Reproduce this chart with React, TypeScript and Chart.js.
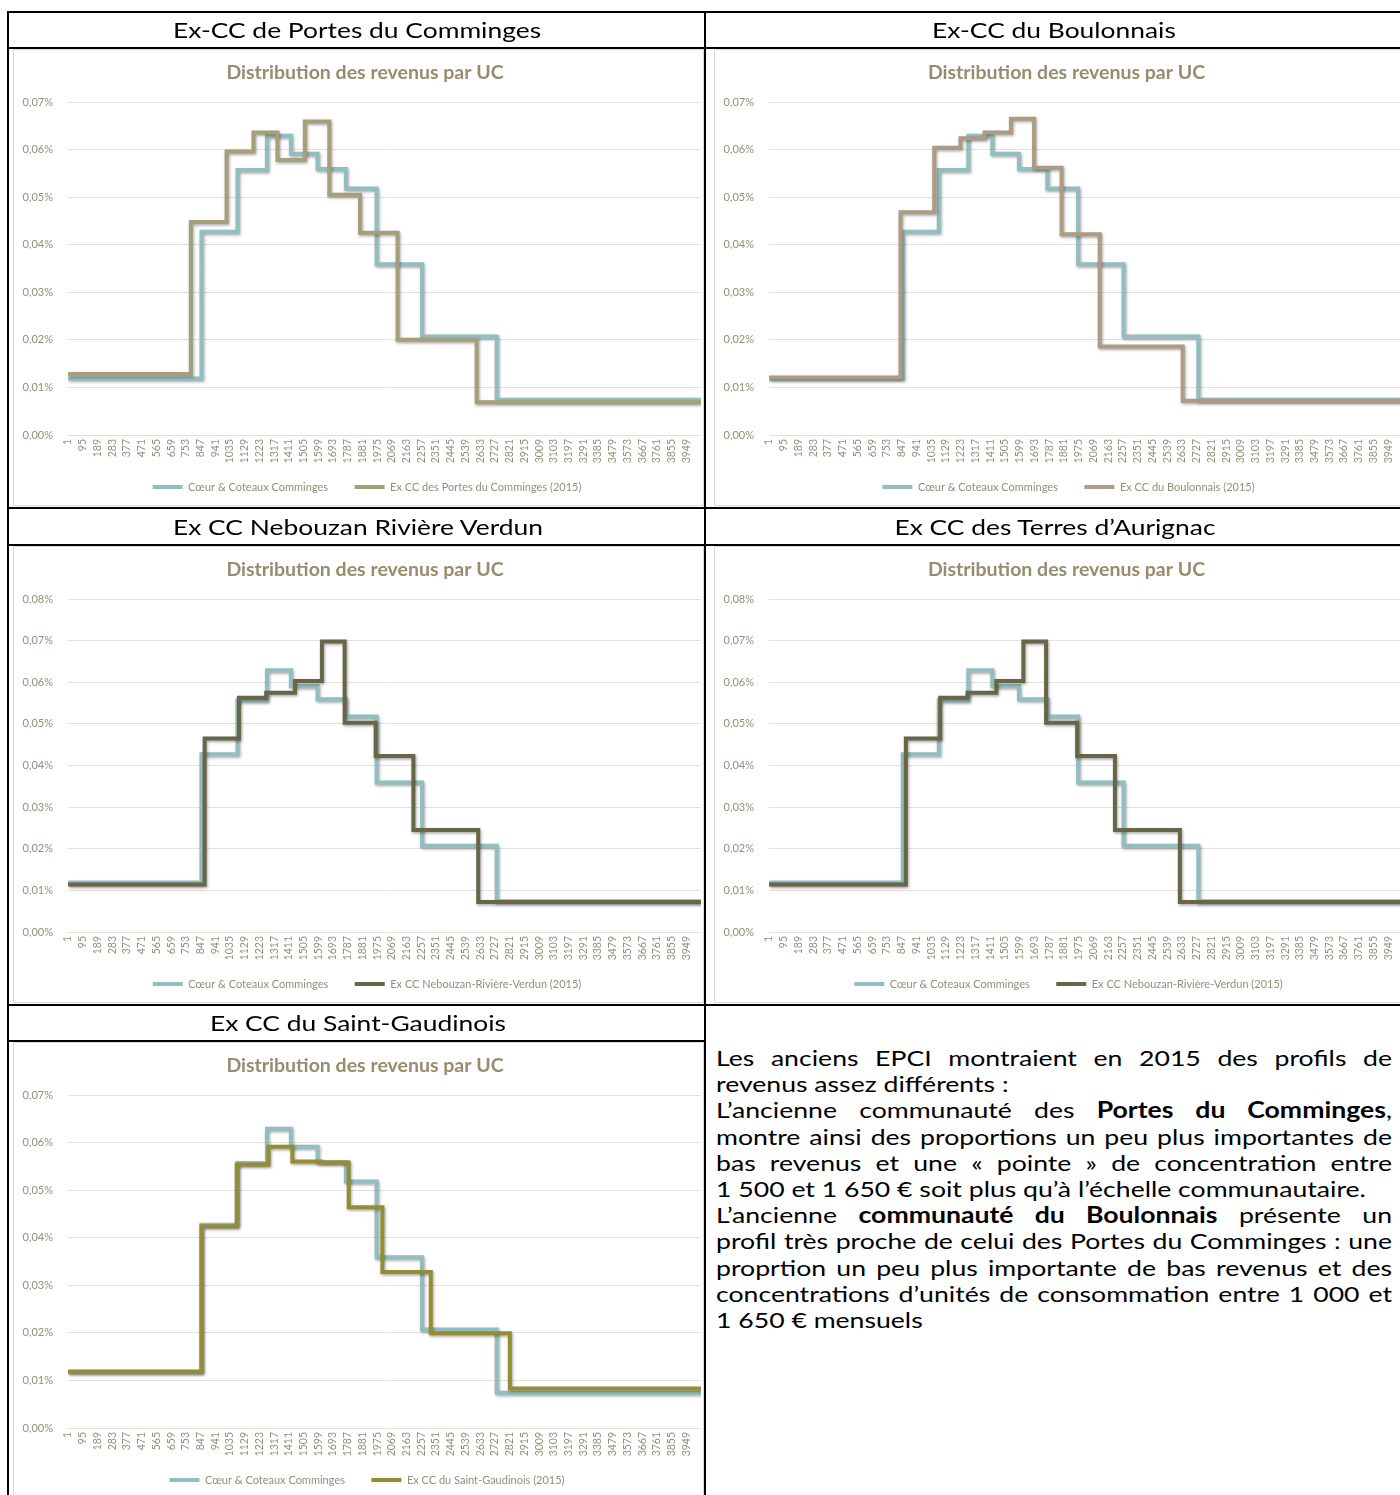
import React, { useEffect, useRef } from "react";
import { Chart, registerables } from "chart.js";

Chart.register(...registerables);

const FONT = "Lato, 'Open Sans', sans-serif";

// X axis tick labels (income per UC, €)
const xTickLabels = [
  1, 95, 189, 283, 377, 471, 565, 659, 753, 847, 941, 1035, 1129, 1223, 1317,
  1411, 1505, 1599, 1693, 1787, 1881, 1975, 2069, 2163, 2257, 2351, 2445, 2539,
  2633, 2727, 2821, 2915, 3009, 3103, 3197, 3291, 3385, 3479, 3573, 3667, 3761,
  3855, 3949,
];
const X_MIN = 0.5;
const X_MAX = 4042.5;

// Step start incomes and densities (% per €)
const coeurBreaks = [1, 853, 1083, 1271, 1424, 1594, 1775, 1971, 2261, 2738];
const coeurValues = [0.0119, 0.0427, 0.0557, 0.0629, 0.0591, 0.0559, 0.0518, 0.0359, 0.0207, 0.0074];

const portesBreaks = [1, 785, 1013, 1185, 1338, 1513, 1669, 1865, 2105, 2610];
const portesValues = [0.0128, 0.0448, 0.0596, 0.0636, 0.0578, 0.0659, 0.0505, 0.0425, 0.02, 0.0069];

const boulonnaisBreaks = [1, 839, 1054, 1221, 1375, 1543, 1690, 1866, 2109, 2638];
const boulonnaisValues = [0.0121, 0.0468, 0.0604, 0.0624, 0.0636, 0.0665, 0.0562, 0.0422, 0.0186, 0.0072];

const nebouzanBreaks = [1, 873, 1092, 1266, 1450, 1622, 1767, 1965, 2206, 2620];
const nebouzanValues = [0.0114, 0.0465, 0.0563, 0.0575, 0.0603, 0.0698, 0.0503, 0.0423, 0.0245, 0.0072];

const gaudinoisBreaks = [1, 853, 1078, 1280, 1433, 1614, 1793, 2008, 2317, 2822];
const gaudinoisValues = [0.0118, 0.0424, 0.0554, 0.0591, 0.056, 0.0558, 0.0464, 0.0328, 0.0199, 0.0083];

const COEUR_LABEL = "Cœur & Coteaux Comminges";
const CHART_TITLE = "Distribution des revenus par UC";

const TEAL = "#93BEBF";
const TICK_COLOR = "#948E7C";
const TITLE_COLOR = "#978C6C";
const GRID_COLOR = "#E4E1D8";

type Series = { label: string; breaks: number[]; values: number[]; color: string };

const portesSeries: Series = { label: "Ex CC des Portes du Comminges (2015)", breaks: portesBreaks, values: portesValues, color: "#A6A07A" };
const boulonnaisSeries: Series = { label: "Ex CC du Boulonnais (2015)", breaks: boulonnaisBreaks, values: boulonnaisValues, color: "#AD9C83" };
const nebouzanSeries: Series = { label: "Ex CC Nebouzan-Rivière-Verdun (2015)", breaks: nebouzanBreaks, values: nebouzanValues, color: "#686647" };
const gaudinoisSeries: Series = { label: "Ex CC du Saint-Gaudinois (2015)", breaks: gaudinoisBreaks, values: gaudinoisValues, color: "#958D33" };

function toSteps(breaks: number[], values: number[]) {
  const pts = breaks.map((b, i) => ({ x: b, y: values[i] }));
  pts.push({ x: X_MAX, y: values[values.length - 1] });
  return pts;
}

const shadowPlugin = {
  id: "lineShadow",
  beforeDatasetDraw(chart: any) {
    const ctx = chart.ctx;
    ctx.save();
    ctx.shadowColor = "rgba(0,0,0,0.35)";
    ctx.shadowBlur = 3;
    ctx.shadowOffsetX = 1;
    ctx.shadowOffsetY = 1.5;
  },
  afterDatasetDraw(chart: any) {
    chart.ctx.restore();
  },
};

// nudges title and legend to the right, as in the original Excel charts
const shiftPlugin = {
  id: "shiftBlocks",
  afterLayout(chart: any) {
    if (chart.titleBlock) {
      chart.titleBlock.left += 8;
      chart.titleBlock.right += 8;
    }
    if (chart.legend) {
      chart.legend.left += 10;
      chart.legend.right += 10;
    }
  },
};

function StepChart({ width, height, yMax, second }: { width: number; height: number; yMax: number; second: Series }) {
  const ref = useRef<HTMLCanvasElement>(null);
  useEffect(() => {
    const canvas = ref.current;
    if (!canvas) return;
    const chart = new Chart(canvas, {
      type: "line",
      data: {
        datasets: [
          {
            label: COEUR_LABEL,
            data: toSteps(coeurBreaks, coeurValues),
            borderColor: TEAL,
            backgroundColor: TEAL,
            borderWidth: 4,
            pointRadius: 0,
            stepped: "before",
            fill: false,
            order: 1,
          },
          {
            label: second.label,
            data: toSteps(second.breaks, second.values),
            borderColor: second.color,
            backgroundColor: second.color,
            borderWidth: 4,
            pointRadius: 0,
            stepped: "before",
            fill: false,
            order: 0,
          },
        ],
      } as any,
      options: {
        animation: false,
        responsive: false,
        devicePixelRatio: 1,
        layout: { padding: { left: 0, right: 3, top: 0, bottom: 3.5 } },
        plugins: {
          tooltip: { enabled: false },
          title: {
            display: true,
            text: CHART_TITLE,
            color: TITLE_COLOR,
            font: { family: FONT, size: 19.5, weight: "bold" },
            padding: { top: 12, bottom: 17.6 },
          },
          legend: {
            position: "bottom",
            labels: {
              boxWidth: 30,
              boxHeight: 4,
              padding: 10,
              color: TICK_COLOR,
              font: { family: FONT, size: 11 },
              generateLabels: (c: any) =>
                (Chart.defaults as any).plugins.legend.labels
                  .generateLabels(c)
                  .sort((a: any, b: any) => a.datasetIndex - b.datasetIndex)
                  .map((l: any, i: number) => ({
                    ...l,
                    lineWidth: 0,
                    text: i === 0 ? l.text + "\u2003\u2003" : l.text,
                  })),
            },
          },
        },
        scales: {
          x: {
            type: "linear",
            min: X_MIN,
            max: X_MAX,
            afterBuildTicks: (axis: any) => {
              axis.ticks = xTickLabels.map((v) => ({ value: v }));
            },
            afterFit: (s: any) => {
              s.height = 36.5;
            },
            ticks: {
              autoSkip: false,
              minRotation: 90,
              maxRotation: 90,
              padding: 4,
              color: TICK_COLOR,
              font: { family: FONT, size: 10.5 },
              callback: (v: any) => String(v),
            },
            grid: { display: false, drawTicks: false },
            border: { display: false },
          },
          y: {
            min: 0,
            max: yMax,
            afterFit: (s: any) => {
              s.width = 55;
            },
            ticks: {
              stepSize: 0.01,
              padding: 15,
              color: TICK_COLOR,
              font: { family: FONT, size: 11 },
              callback: (v: any) => Number(v).toFixed(2).replace(".", ",") + "%",
            },
            grid: { color: GRID_COLOR, lineWidth: 1, drawTicks: false },
            border: { display: false },
          },
        },
      } as any,
      plugins: [shadowPlugin, shiftPlugin],
    });
    return () => chart.destroy();
  }, [width, height, yMax, second]);
  return <canvas ref={ref} width={width} height={height} style={{ display: "block", width, height }} />;
}

const line = (left: number, top: number, width: number, height: number) => (
  <div style={{ position: "absolute", left, top, width, height, background: "#000" }} />
);

function Header({ cx, cy, text }: { cx: number; cy: number; text: string }) {
  return (
    <div
      style={{
        position: "absolute",
        left: cx - 300,
        top: cy - 15,
        width: 600,
        height: 30,
        lineHeight: "30px",
        textAlign: "center",
        fontFamily: FONT,
        fontSize: 22,
        color: "#000",
        transform: "scaleX(1.2)",
        transformOrigin: "center",
        whiteSpace: "nowrap",
      }}
    >
      {text}
    </div>
  );
}

function ChartBox({ left, top, width, height, yMax, second }: { left: number; top: number; width: number; height: number; yMax: number; second: Series }) {
  return (
    <div style={{ position: "absolute", left, top, width, height }}>
      <StepChart width={width} height={height} yMax={yMax} second={second} />
      <div
        style={{
          position: "absolute",
          left: 0,
          top: 0,
          width: width - 2,
          height: height - 2,
          border: "1px solid #D9D9D9",
          pointerEvents: "none",
        }}
      />
    </div>
  );
}

type Seg = { t: string; b?: boolean };
const textLines: { segs: Seg[]; justify: boolean }[] = [
  { segs: [{ t: "Les anciens EPCI montraient en 2015 des profils de" }], justify: true },
  { segs: [{ t: "revenus assez différents :" }], justify: false },
  { segs: [{ t: "L’ancienne communauté des " }, { t: "Portes du Comminges", b: true }, { t: "," }], justify: true },
  { segs: [{ t: "montre ainsi des proportions un peu plus importantes de" }], justify: true },
  { segs: [{ t: "bas revenus et une «\u00A0pointe\u00A0» de concentration entre" }], justify: true },
  { segs: [{ t: "1\u00A0500 et 1\u00A0650\u00A0€ soit plus qu’à l’échelle communautaire." }], justify: false },
  { segs: [{ t: "L’ancienne " }, { t: "communauté du Boulonnais", b: true }, { t: " présente un" }], justify: true },
  { segs: [{ t: "profil très proche de celui des Portes du Comminges : une" }], justify: true },
  { segs: [{ t: "proprtion un peu plus importante de bas revenus et des" }], justify: true },
  { segs: [{ t: "concentrations d’unités de consommation entre 1\u00A0000 et" }], justify: true },
  { segs: [{ t: "1\u00A0650\u00A0€ mensuels" }], justify: false },
];

const TEXT_SCALE = 1.21;
const TEXT_WIDTH = 676;

export default function App() {
  const CW = 691;
  const CH = 457;
  return (
    <div
      style={{
        position: "absolute",
        left: 0,
        top: 0,
        width: 1400,
        height: 1495,
        overflow: "hidden",
        background: "#fff",
      }}
    >
      {/* charts */}
      <ChartBox left={13} top={49} width={CW} height={CH} yMax={0.07} second={portesSeries} />
      <ChartBox left={714} top={49} width={CW + 1} height={CH} yMax={0.07} second={boulonnaisSeries} />
      <ChartBox left={13} top={546} width={CW} height={CH} yMax={0.08} second={nebouzanSeries} />
      <ChartBox left={714} top={546} width={CW + 1} height={CH} yMax={0.08} second={nebouzanSeries} />
      <ChartBox left={13} top={1042} width={CW} height={CH} yMax={0.07} second={gaudinoisSeries} />

      {/* table lines */}
      {line(7, 11, 1393, 2)}
      {line(7, 11, 2, 1484)}
      {line(704, 11, 2, 1484)}
      {line(7, 47, 1393, 2)}
      {line(7, 507, 1393, 2)}
      {line(7, 544, 1393, 2)}
      {line(7, 1004, 1393, 2)}
      {line(7, 1040, 699, 2)}

      {/* headers */}
      <Header cx={357} cy={30} text="Ex-CC de Portes du Comminges" />
      <Header cx={1054} cy={30} text="Ex-CC du Boulonnais" />
      <Header cx={358} cy={527} text="Ex CC Nebouzan Rivière Verdun" />
      <Header cx={1055} cy={527} text="Ex CC des Terres d’Aurignac" />
      <Header cx={358} cy={1023} text="Ex CC du Saint-Gaudinois" />

      {/* text */}
      <div
        style={{
          position: "absolute",
          left: 716,
          top: 1045,
          width: TEXT_WIDTH / TEXT_SCALE,
          transform: `scaleX(${TEXT_SCALE})`,
          transformOrigin: "left top",
          fontFamily: FONT,
          fontSize: 22,
          lineHeight: "26.2px",
          color: "#000",
        }}
      >
        {textLines.map((l, i) => (
          <div
            key={i}
            style={{
              whiteSpace: "nowrap",
              textAlign: l.justify ? "justify" : "left",
              textAlignLast: l.justify ? "justify" : "left",
              height: 26.2,
            }}
          >
            {l.segs.map((s, j) =>
              s.b ? (
                <b key={j} style={{ fontWeight: 700 }}>
                  {s.t}
                </b>
              ) : (
                <span key={j}>{s.t}</span>
              )
            )}
          </div>
        ))}
      </div>
    </div>
  );
}
